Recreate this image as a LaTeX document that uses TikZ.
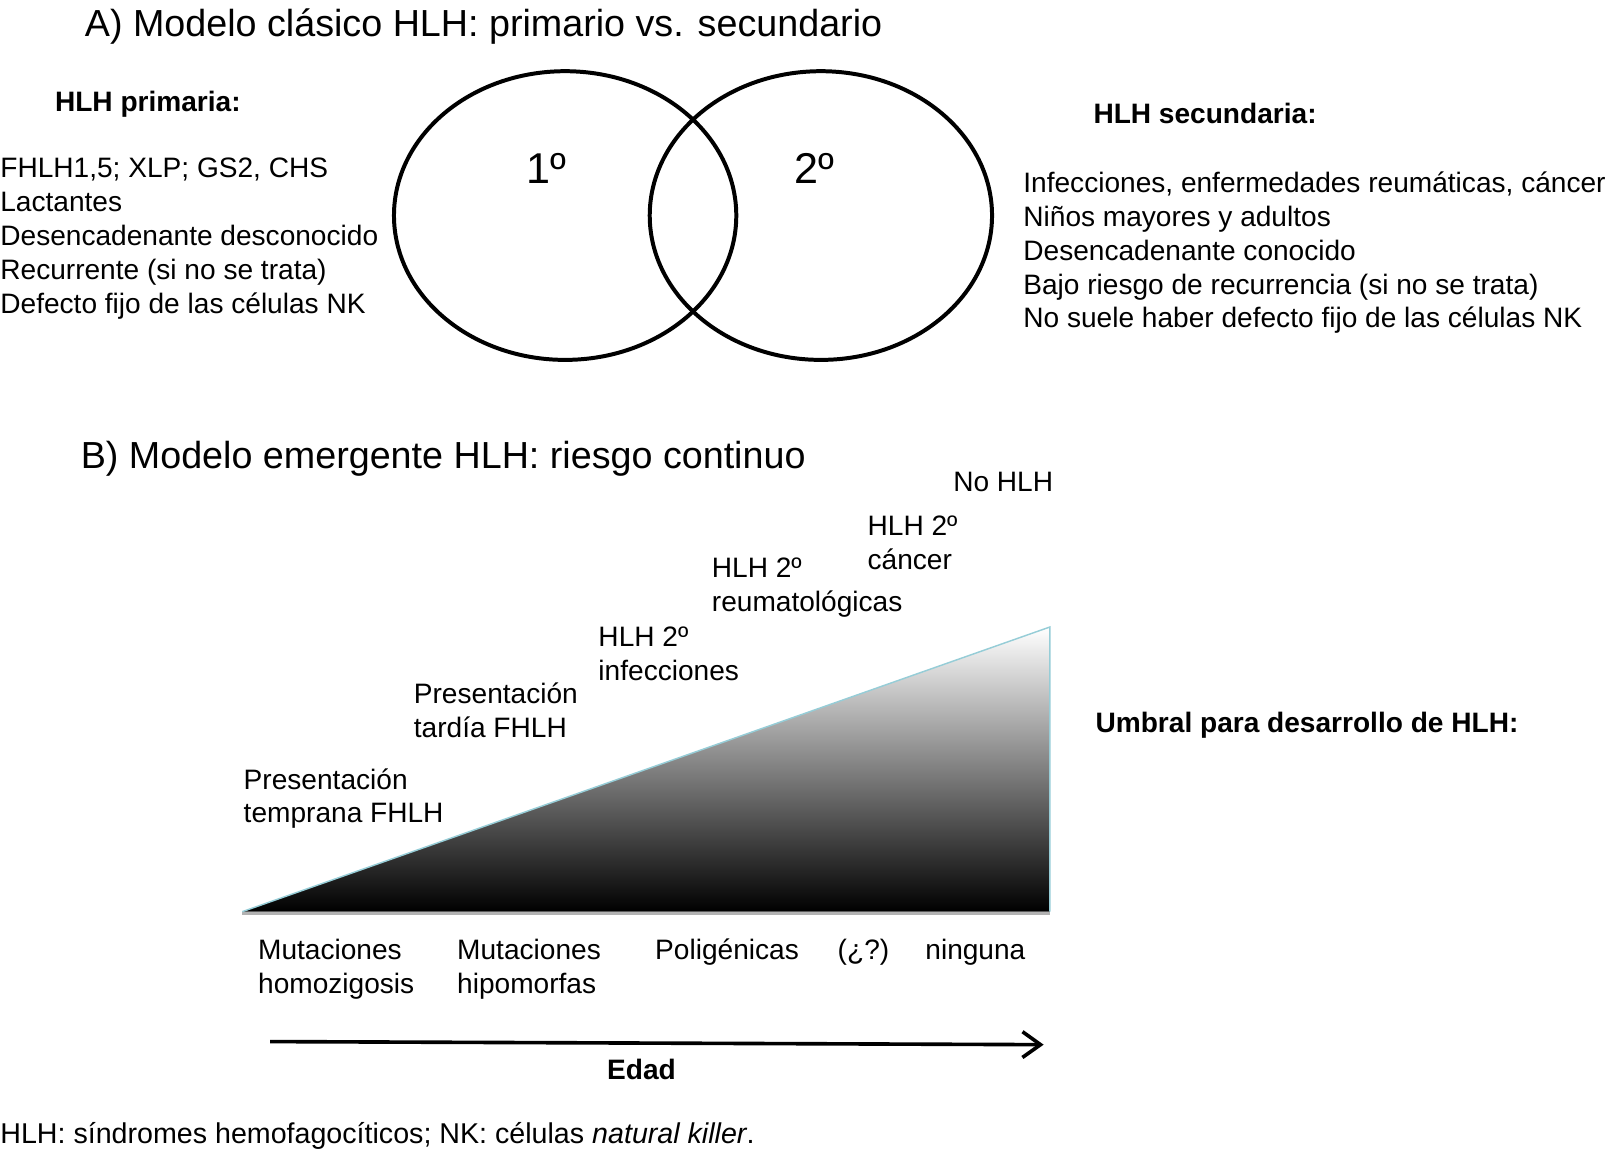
\documentclass[tikz,border=0pt]{standalone}
\usepackage{fontspec}
\setmainfont{Liberation Sans}
\usetikzlibrary{arrows.meta,positioning,shapes.geometric}
\definecolor{edgeblue}{RGB}{150,205,215}
\begin{document}
\begin{tikzpicture}[
    x=0.02cm, y=-0.02cm,
    >={Straight Barb[length=3.5mm,width=5mm]},
    txt/.style={inner sep=0, anchor=base west, align=left, font=\fontsize{15.5}{18.7}\selectfont},
    head/.style={txt, font=\fontsize{15.5}{18.7}\selectfont\bfseries},
    title/.style={inner sep=0, anchor=base west, font=\fontsize{20.8}{25}\selectfont},
    circ/.style={draw, ellipse, line width=2.2pt, minimum width=6.64cm, minimum height=5.6cm},
    big/.style={inner sep=0, anchor=base, font=\fontsize{23.8}{28}\selectfont}
  ]
  \useasboundingbox (0,0) rectangle (1568,1117);

  % A) classic model
  \node[title] (titA) at (82,35) {A) Modelo clásico HLH: primario vs. secundario};
  \node[head] (prim) at (53,108) {HLH primaria:};
  \node[txt] (primlist) at (0,304) {FHLH1,5; XLP; GS2, CHS\\Lactantes\\Desencadenante desconocido\\Recurrente (si no se trata)\\Defecto fijo de las células NK};
  \node[circ] (c1) at (548,209) {};
  \node[circ] (c2) at (796,209) {};
  \node[big] (one) at (530,178) {1º};
  \node[big] (two) at (790,178) {2º};
  \node[head] (sec) at (1060,120) {HLH secundaria:};
  \node[txt] (seclist) at (992,318) {Infecciones, enfermedades reumáticas, cáncer\\Niños mayores y adultos\\Desencadenante conocido\\Bajo riesgo de recurrencia (si no se trata)\\No suele haber defecto fijo de las células NK};

  % B) emerging model
  \node[title] (titB) at (78,454) {B) Modelo emergente HLH: riesgo continuo};
  \shade[top color=white, bottom color=black] (235,884) -- (1018,884) -- (1018,608) -- cycle;
  \draw[black!30, line width=1.5pt] (235,886) -- (1018,886);
  \draw[edgeblue, line width=0.8pt] (235,884) -- (1018,608) -- (1018,884);
  \node[txt] (nohlh) at (924,477) {No HLH};
  \node[txt] (canc) at (841,552) {HLH 2º\\cáncer};
  \node[txt] (reum) at (690,593) {HLH 2º\\reumatológicas};
  \node[txt] (infec) at (580,660) {HLH 2º\\infecciones};
  \node[txt] (tard) at (401,715) {Presentación\\tardía FHLH};
  \node[txt] (temp) at (236,798) {Presentación\\temprana FHLH};
  \node[head] (umbral) at (1062,710) {Umbral para desarrollo de HLH:};

  \node[txt] (homo) at (250,963) {Mutaciones\\homozigosis};
  \node[txt] (hipo) at (443,963) {Mutaciones\\hipomorfas};
  \node[txt] (poli) at (635,930) {Poligénicas};
  \node[txt] (duda) at (812,930) {(¿?)};
  \node[txt] (ning) at (897,930) {ninguna};

  \coordinate (e0) at (262,1010);
  \coordinate (e1) at (1012,1013);
  \draw[->, line width=2pt] (e0) -- (e1);
  \node[head, anchor=base] (edad) at (622,1047) {Edad};

  \node[txt, font=\fontsize{15.8}{19}\selectfont] (note) at (0,1109) {HLH: síndromes hemofagocíticos; NK: células \textit{natural killer}.};
\end{tikzpicture}
\end{document}
